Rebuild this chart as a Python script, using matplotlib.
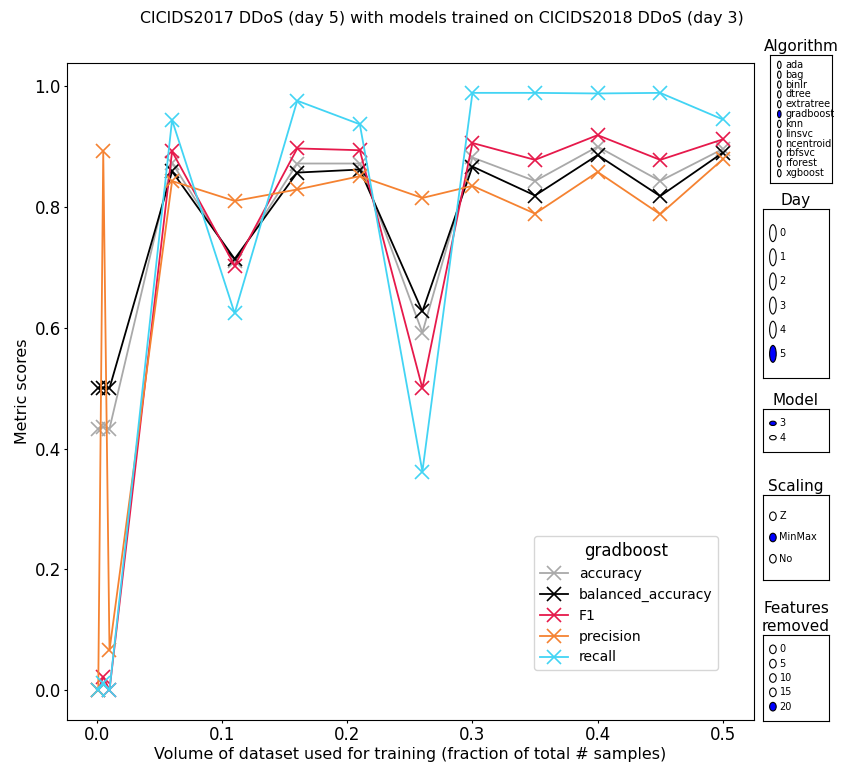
import numpy as np
import matplotlib
matplotlib.use('Agg')
import matplotlib.pyplot as plt
from matplotlib.patches import Circle

# training volume (fraction of total samples)
volumes = [0.001, 0.005, 0.01, 0.06, 0.11, 0.16, 0.21, 0.26, 0.30, 0.35, 0.40, 0.45, 0.50]

accuracy = [0.433, 0.436, 0.433, 0.873, 0.710, 0.872, 0.872, 0.592, 0.882, 0.843, 0.900, 0.843, 0.896]
balanced_accuracy = [0.500, 0.501, 0.500, 0.859, 0.714, 0.857, 0.862, 0.627, 0.867, 0.819, 0.886, 0.818, 0.890]
f1 = [0.000, 0.022, 0.000, 0.892, 0.703, 0.897, 0.894, 0.500, 0.906, 0.878, 0.919, 0.878, 0.912]
precision = [0.000, 0.892, 0.066, 0.843, 0.810, 0.829, 0.851, 0.815, 0.835, 0.789, 0.858, 0.788, 0.879]
recall = [0.000, 0.011, 0.000, 0.944, 0.624, 0.976, 0.937, 0.362, 0.989, 0.989, 0.988, 0.989, 0.945]

metric_names = ['accuracy', 'balanced_accuracy', 'F1', 'precision', 'recall']
metric_colors = ['#a9a9a9', '#000000', '#e6194b', '#f58231', '#42d4f4']

algorithms = ['ada', 'bag', 'binlr', 'dtree', 'extratree', 'gradboost', 'knn',
              'linsvc', 'ncentroid', 'rbfsvc', 'rforest', 'xgboost']
days = ['0', '1', '2', '3', '4', '5']
models = ['3', '4']
scalings = ['Z', 'MinMax', 'No']
features_removed = ['0', '5', '10', '15', '20']

W, H = 843, 765
fig = plt.figure(figsize=(W / 100, H / 100), dpi=100)


def px_axes(left, top, right, bottom):
    return fig.add_axes([left / W, 1 - bottom / H, (right - left) / W, (bottom - top) / H])


ax = px_axes(67, 63, 754, 720)
series = [accuracy, balanced_accuracy, f1, precision, recall]
for name, color, values in zip(metric_names, metric_colors, series):
    ax.plot(volumes, values, color=color, marker='x', markersize=10, linewidth=1.3,
            markeredgewidth=1.2, label=name)

ax.set_xlabel('Volume of dataset used for training (fraction of total # samples)',
              fontsize=11.4, labelpad=2)
ax.set_ylabel('Metric scores', fontsize=11.4, labelpad=3)
ax.tick_params(labelsize=12, length=2.5, pad=2)
ax.set_xticks([0.0, 0.1, 0.2, 0.3, 0.4, 0.5])
ax.set_xticklabels(['0.0', '0.1', '0.2', '0.3', '0.4', '0.5'])
leg = ax.legend(title='gradboost', fontsize=10, title_fontsize=12,
                loc='lower right', bbox_to_anchor=(0.9476, 0.0761), borderaxespad=0)

fig.text(442 / W, 1 - 18 / H,
         'CICIDS2017 DDoS (day 5) with models trained on CICIDS2018 DDoS (day 3)',
         ha='center', va='center', fontsize=11.4)


def radio_panel(box, title, labels, active):
    rax = px_axes(*box)
    rax.set_xticks([])
    rax.set_yticks([])
    rax.set_xlim(0, 1)
    rax.set_ylim(0, 1)
    rax.set_title(title, fontsize=11, pad=3)
    dy = 1.0 / (len(labels) + 1)
    ys = np.linspace(1 - dy, dy, len(labels))
    radius = min(dy / 2 - 0.01, 0.05)
    for y, lab in zip(ys, labels):
        face = 'blue' if lab == active else 'white'
        rax.add_patch(Circle((0.15, y), radius, transform=rax.transAxes,
                             facecolor=face, edgecolor='black', linewidth=0.8))
        rax.text(0.25, y, lab, transform=rax.transAxes, ha='left', va='center', fontsize=7)
    return rax


radio_panel((770, 55, 832, 183), 'Algorithm', algorithms, 'gradboost')
radio_panel((763, 209, 829, 378), 'Day', days, '5')
radio_panel((763, 409, 829, 452), 'Model', models, '3')
radio_panel((763, 495, 829, 580), 'Scaling', scalings, 'MinMax')
radio_panel((763, 635, 829, 721), 'Features\nremoved', features_removed, '20')

fig.savefig('out.png', dpi=100)
